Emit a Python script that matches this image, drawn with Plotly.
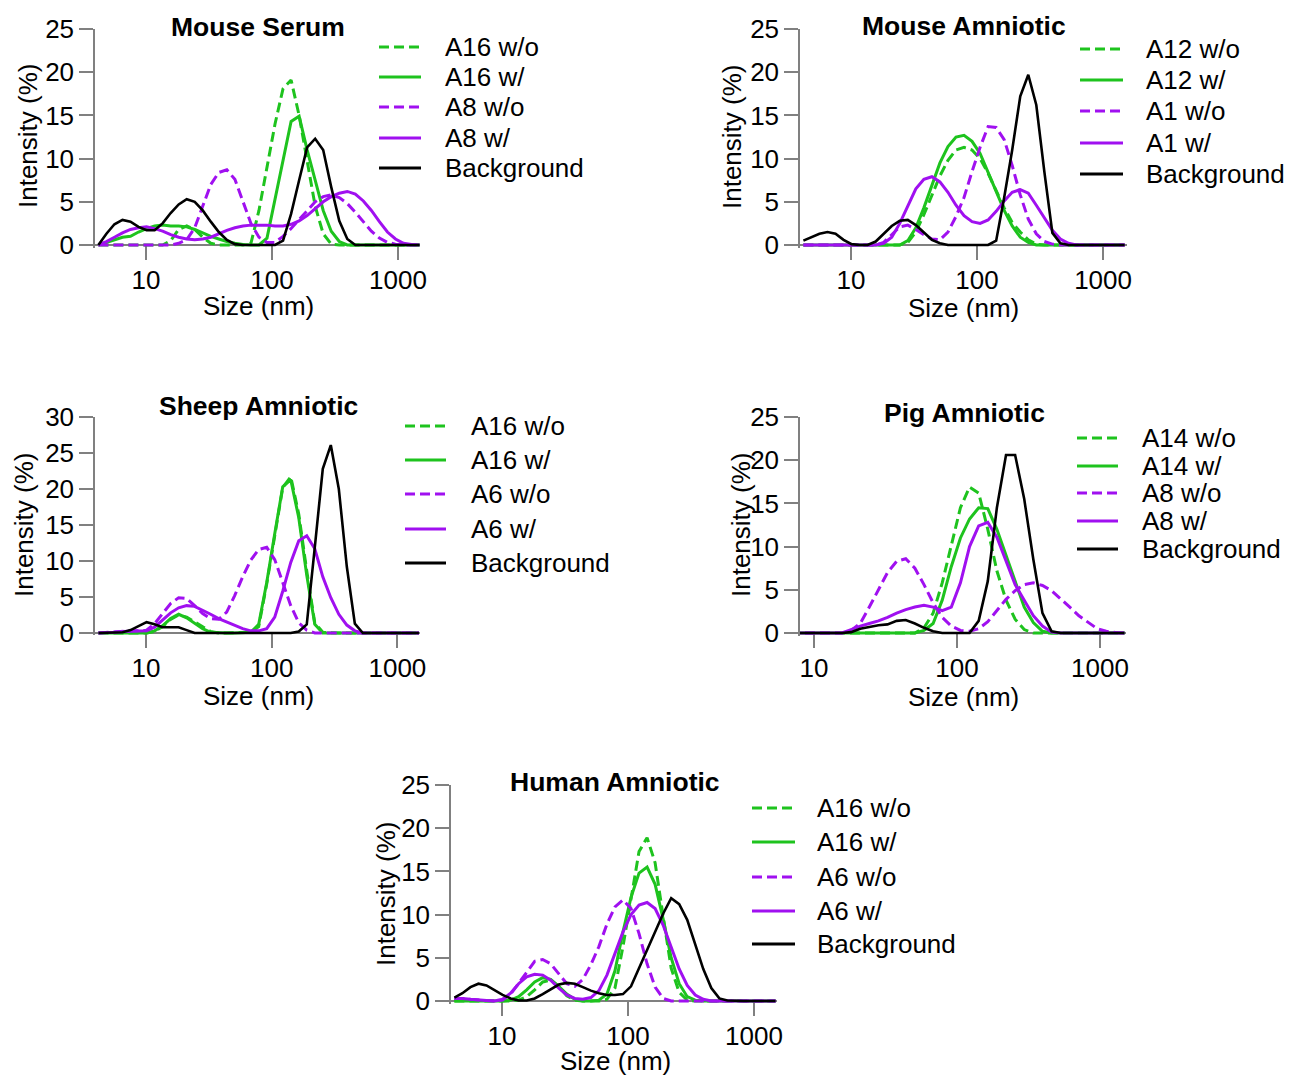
import plotly.graph_objects as go

W, H = 1293, 1079
OFF = 8  # the page body margin that shifts the figure inside the window

# ---------------- data ----------------
SIZES_NM = [4.187, 4.849, 5.615, 6.503, 7.531, 8.721, 10.10, 11.70, 13.54, 15.69,
            18.17, 21.04, 24.36, 28.21, 32.67, 37.84, 43.82, 50.75, 58.77, 68.06,
            78.82, 91.28, 105.7, 122.4, 141.8, 164.2, 190.1, 220.2, 255.0, 295.3,
            342.0, 396.1, 458.7, 531.2, 615.1, 712.4, 825.0, 955.4, 1106, 1281,
            1484]

X_TICKS = [10, 100, 1000]
X_TICK_LABELS = ["10", "100", "1000"]

# Mouse Serum
MS_A16_WO = [0, 0, 0, 0, 0, 0, 0, 0, 0, 0.5, 1.8, 2.2, 1.8, 0.9, 0.2, 0, 0, 0, 0, 0.2,
             4.0, 9.0, 14.0, 18.1, 19.1, 15.0, 9.5, 4.5, 1.3, 0.1, 0, 0, 0, 0, 0, 0, 0, 0, 0, 0, 0]
MS_A16_W = [0, 0.3, 0.6, 0.9, 1.0, 1.5, 1.9, 2.2, 2.3, 2.2, 2.2, 2.1, 1.8, 1.4, 1.0, 0.7, 0.4, 0.2, 0.05, 0,
            0, 0.8, 5.3, 9.8, 14.3, 14.9, 11.0, 7.5, 4.0, 1.6, 0.4, 0, 0, 0, 0, 0, 0, 0, 0, 0, 0]
MS_A8_WO = [0, 0, 0, 0, 0, 0, 0, 0, 0, 0, 0.2, 0.6, 2.0, 4.6, 7.0, 8.4, 8.7, 7.6, 5.1, 2.5,
            0.9, 0.3, 0.3, 1.0, 1.9, 2.9, 4.0, 5.0, 5.6, 5.8, 5.5, 4.8, 3.8, 2.7, 1.6, 0.8, 0.3, 0.1, 0, 0, 0]
MS_A8_W = [0, 0.4, 0.9, 1.4, 1.8, 2.0, 2.1, 1.9, 1.6, 1.2, 0.9, 0.7, 0.6, 0.7, 0.9, 1.3, 1.7, 2.0, 2.2, 2.3,
           2.3, 2.3, 2.2, 2.2, 2.4, 2.8, 3.4, 4.2, 5.0, 5.6, 6.0, 6.2, 5.9, 5.1, 4.0, 2.7, 1.5, 0.7, 0.2, 0.05, 0]
MS_BG = [0, 1.3, 2.4, 2.9, 2.7, 2.1, 1.7, 1.7, 2.5, 3.7, 4.7, 5.3, 5.0, 4.0, 2.7, 1.5, 0.6, 0.1, 0, 0,
         0, 0, 0, 0.5, 3.6, 7.5, 11.3, 12.3, 11.0, 6.7, 2.8, 0.7, 0, 0, 0, 0, 0, 0, 0, 0, 0]

# Mouse Amniotic
MA_A12_WO = [0, 0, 0, 0, 0, 0, 0, 0, 0, 0, 0, 0, 0, 0.3, 1.5, 3.5, 5.8, 8.0, 9.8, 11.0,
             11.3, 11.0, 10.0, 8.3, 6.3, 4.3, 2.6, 1.5, 0.6, 0.1, 0, 0, 0, 0, 0, 0, 0, 0, 0, 0, 0]
MA_A12_W = [0, 0, 0, 0, 0, 0, 0, 0, 0, 0, 0, 0, 0, 0.5, 2.0, 4.3, 7.0, 9.5, 11.4, 12.5,
            12.7, 12.0, 10.6, 8.5, 6.2, 4.0, 2.2, 0.9, 0.3, 0, 0, 0, 0, 0, 0, 0, 0, 0, 0, 0, 0]
MA_A1_WO = [0, 0, 0, 0, 0, 0, 0, 0, 0, 0, 0.3, 1.2, 2.1, 2.3, 1.8, 1.2, 0.7, 0.6, 1.5, 3.3,
            5.5, 8.5, 11.3, 13.7, 13.6, 12.2, 9.2, 5.8, 3.0, 1.3, 0.4, 0.1, 0, 0, 0, 0, 0, 0, 0, 0, 0]
MA_A1_W = [0, 0, 0, 0, 0, 0, 0, 0, 0, 0, 0.2, 0.9, 2.5, 4.6, 6.5, 7.6, 7.9, 7.3, 6.1, 4.6,
           3.4, 2.7, 2.5, 2.9, 3.9, 5.1, 6.1, 6.4, 6.0, 4.6, 3.2, 1.7, 0.7, 0.2, 0, 0, 0, 0, 0, 0, 0]
MA_BG = [0.5, 0.9, 1.3, 1.5, 1.3, 0.6, 0.1, 0, 0, 0.4, 1.3, 2.2, 2.8, 2.9, 2.3, 1.4, 0.6, 0.2, 0, 0,
         0, 0, 0, 0, 0.5, 5.5, 11.0, 17.2, 19.7, 16.2, 8.5, 1.4, 0.2, 0, 0, 0, 0, 0, 0, 0, 0]

# Sheep Amniotic
SH_A16_WO = [0, 0, 0, 0, 0, 0, 0, 0.2, 0.9, 1.9, 2.5, 2.2, 1.5, 0.8, 0.2, 0, 0, 0, 0, 0.1,
             0.9, 6.8, 13.5, 20.2, 21.7, 16.5, 8.6, 1.4, 0.1, 0, 0, 0, 0, 0, 0, 0, 0, 0, 0, 0, 0]
SH_A16_W = [0, 0, 0, 0, 0, 0, 0, 0.3, 1.0, 2.0, 2.6, 2.1, 1.3, 0.6, 0.1, 0, 0, 0, 0, 0.1,
            1.2, 7.0, 13.8, 20.3, 21.3, 16.0, 8.0, 1.2, 0, 0, 0, 0, 0, 0, 0, 0, 0, 0, 0, 0, 0]
SH_A6_WO = [0, 0.1, 0.2, 0.3, 0.3, 0.3, 0.4, 1.3, 2.7, 4.1, 4.9, 4.8, 3.8, 2.7, 2.0, 1.9, 2.9, 5.2, 7.8, 10.1,
            11.6, 11.9, 10.2, 7.0, 3.8, 1.4, 0.4, 0, 0, 0, 0, 0, 0, 0, 0, 0, 0, 0, 0, 0, 0]
SH_A6_W = [0, 0, 0.1, 0.2, 0.2, 0.3, 0.3, 0.8, 1.8, 2.8, 3.5, 3.8, 3.7, 3.2, 2.6, 2.0, 1.5, 1.0, 0.6, 0.3,
           0.3, 0.6, 2.2, 5.8, 9.8, 12.8, 13.5, 11.7, 7.8, 4.9, 2.6, 1.1, 0.3, 0, 0, 0, 0, 0, 0, 0, 0]
SH_BG = [0, 0, 0, 0.1, 0.4, 1.0, 1.5, 1.2, 0.8, 0.8, 0.8, 0.4, 0, 0, 0, 0, 0, 0, 0, 0,
         0, 0, 0, 0, 0, 0.2, 1.2, 11.9, 22.8, 26.1, 20.0, 9.2, 1.3, 0, 0, 0, 0, 0, 0, 0, 0]

# Pig Amniotic
PIG_A14_WO = [0, 0, 0, 0, 0, 0, 0, 0, 0, 0, 0, 0, 0, 0, 0, 0, 0, 0, 0.6, 2.3,
              5.8, 10.2, 14.5, 16.9, 16.2, 12.0, 7.2, 3.8, 1.6, 0.4, 0, 0, 0, 0, 0, 0, 0, 0, 0, 0, 0]
PIG_A14_W = [0, 0, 0, 0, 0, 0, 0, 0, 0, 0, 0, 0, 0, 0, 0, 0, 0, 0, 0.3, 1.1,
             3.8, 7.7, 11.0, 13.2, 14.5, 14.4, 12.0, 9.0, 5.8, 3.0, 1.2, 0.2, 0, 0, 0, 0, 0, 0, 0, 0, 0]
PIG_A8_WO = [0, 0, 0, 0, 0, 0, 0, 0, 0, 0, 0.3, 1.1, 3.0, 5.0, 7.0, 8.3, 8.6, 7.5, 5.6, 3.5,
             1.8, 0.8, 0.3, 0.2, 0.5, 1.3, 2.6, 3.9, 4.9, 5.6, 5.8, 5.5, 4.9, 4.0, 3.0, 2.0, 1.2, 0.5, 0.2, 0.05, 0]
PIG_A8_W = [0, 0, 0, 0, 0, 0, 0, 0, 0, 0, 0.4, 0.8, 1.1, 1.4, 1.8, 2.3, 2.7, 3.0, 3.2, 3.0,
            2.6, 3.0, 5.8, 10.0, 12.4, 12.8, 11.1, 8.3, 5.6, 3.8, 2.0, 0.8, 0.1, 0, 0, 0, 0, 0, 0, 0, 0]
PIG_BG = [0, 0, 0, 0, 0, 0, 0, 0, 0, 0, 0.1, 0.5, 0.7, 0.9, 1.0, 1.4, 1.5, 1.1, 0.6, 0.2,
          0, 0, 0, 0, 1.4, 6.0, 14.5, 20.6, 20.6, 15.5, 8.5, 2.3, 0.2, 0, 0, 0, 0, 0, 0, 0, 0]

# Human Amniotic
HU_A16_WO = [0, 0, 0, 0, 0, 0, 0, 0, 0.1, 0.5, 1.3, 2.2, 2.4, 1.7, 0.6, 0.1, 0, 0, 0, 0.2,
             1.5, 6.3, 12.0, 17.3, 18.9, 16.0, 9.8, 3.8, 1.0, 0.1, 0, 0, 0, 0, 0, 0, 0, 0, 0, 0, 0]
HU_A16_W = [0, 0, 0, 0, 0, 0, 0, 0.1, 0.5, 1.3, 2.2, 2.7, 2.5, 1.7, 0.8, 0.2, 0, 0, 0.1, 0.8,
            3.5, 8.0, 12.0, 14.8, 15.5, 13.5, 9.5, 5.0, 2.0, 0.5, 0.1, 0, 0, 0, 0, 0, 0, 0, 0, 0, 0]
HU_A6_WO = [0.3, 0.3, 0.2, 0.1, 0.05, 0, 0.1, 0.8, 2.0, 3.3, 4.6, 4.8, 4.3, 3.1, 2.0, 1.7, 2.5, 4.2, 6.3, 8.9,
            10.9, 11.7, 10.7, 7.8, 4.3, 1.6, 0.3, 0, 0, 0, 0, 0, 0, 0, 0, 0, 0, 0, 0, 0, 0]
HU_A6_W = [0.3, 0.3, 0.2, 0.1, 0.05, 0, 0.2, 0.9, 2.0, 2.8, 3.1, 3.0, 2.4, 1.5, 0.7, 0.3, 0.2, 0.4, 1.2, 3.0,
           5.5, 8.0, 10.0, 11.1, 11.4, 10.7, 8.8, 6.2, 3.7, 1.8, 0.7, 0.2, 0, 0, 0, 0, 0, 0, 0, 0, 0]
HU_BG = [0.4, 0.9, 1.6, 2.0, 1.8, 1.2, 0.7, 0.3, 0.05, 0.05, 0.3, 0.8, 1.4, 1.9, 2.1, 2.0, 1.6, 1.2, 0.9, 0.7,
         0.7, 0.8, 1.7, 3.8, 5.9, 8.2, 10.1, 11.9, 11.2, 9.4, 6.6, 3.7, 1.5, 0.3, 0.05, 0, 0, 0, 0, 0, 0]

PANEL_TITLES = ["Mouse Serum", "Mouse Amniotic", "Sheep Amniotic", "Pig Amniotic", "Human Amniotic"]
LEGEND_LABELS = [
    ["A16 w/o", "A16 w/", "A8 w/o", "A8 w/", "Background"],
    ["A12 w/o", "A12 w/", "A1 w/o", "A1 w/", "Background"],
    ["A16 w/o", "A16 w/", "A6 w/o", "A6 w/", "Background"],
    ["A14 w/o", "A14 w/", "A8 w/o", "A8 w/", "Background"],
    ["A16 w/o", "A16 w/", "A6 w/o", "A6 w/", "Background"],
]
SERIES = [
    [MS_A16_WO, MS_A16_W, MS_A8_WO, MS_A8_W, MS_BG],
    [MA_A12_WO, MA_A12_W, MA_A1_WO, MA_A1_W, MA_BG],
    [SH_A16_WO, SH_A16_W, SH_A6_WO, SH_A6_W, SH_BG],
    [PIG_A14_WO, PIG_A14_W, PIG_A8_WO, PIG_A8_W, PIG_BG],
    [HU_A16_WO, HU_A16_W, HU_A6_WO, HU_A6_W, HU_BG],
]
Y_MAX = [25, 25, 30, 25, 25]

# ---------------- styles / layout (window pixels) ----------------
GREEN = "#1EC31E"
PURPLE = "#A010F0"
BLACK = "#000000"
AXIS = "#808080"
FONT = "Liberation Sans, Arial, sans-serif"
FS = 26
DASH = "10px,5px"
STYLES = [(GREEN, DASH, 3), (GREEN, "solid", 3), (PURPLE, DASH, 3), (PURPLE, "solid", 3), (BLACK, "solid", 2.6)]

# per panel: x_left, x_right, y_top, y_zero (px), log x range
PANEL_BOX = [
    (95, 420, 29, 245, (0.595, 3.175)),
    (800, 1127, 29, 245, (0.595, 3.19)),
    (95, 420, 417, 633, (0.594, 3.18)),
    (800, 1126, 417, 633, (0.902, 3.182)),
    (451, 777, 785, 1001, (0.595, 3.183)),
]
TITLE_POS = [(258, 27), (964, 26), (258, 406), (964, 413), (615, 782)]
XTITLE_POS = [(258, 306), (963, 308), (258, 696), (963, 697), (615, 1061)]
YTITLE_POS = [(28, 136), (732, 137), (24, 525), (741, 525), (386, 894)]
LEGEND_POS = [
    (379, 421, 443, [47, 77, 107, 138, 168]),
    (1080, 1123, 1144, [49, 80, 111, 143, 174]),
    (405, 446, 469, [426, 460, 494, 529, 563]),
    (1077, 1118, 1140, [438, 466, 493, 521, 549]),
    (752, 795, 815, [808, 842, 877, 911, 944]),
]
YPAD = 0.3
FW, FH = W - OFF, H - OFF


def px(x):
    return (x - OFF) / FW


def py(y):
    return 1 - (y - OFF) / FH


fig = go.Figure()
annotations = []
shapes = []
layout = {}

for i in range(5):
    n = "" if i == 0 else str(i + 1)
    xl, xr, yt, y0, xr_log = PANEL_BOX[i]
    ymax = Y_MAX[i]
    ppu = (y0 - yt) / ymax
    ybot = y0 + YPAD * ppu

    for s, (vals, label) in enumerate(zip(SERIES[i], LEGEND_LABELS[i])):
        color, dash, lw = STYLES[s]
        fig.add_trace(go.Scatter(
            x=SIZES_NM, y=vals, mode="lines", name=label,
            line=dict(color=color, width=lw, dash=dash),
            xaxis="x" + n, yaxis="y" + n, showlegend=False,
        ))

    layout["xaxis" + n] = dict(
        type="log", range=list(xr_log), domain=[px(xl), px(xr)],
        anchor="free", position=py(y0), automargin=False,
        tickvals=X_TICKS, ticktext=X_TICK_LABELS,
        showline=True, linecolor=AXIS, linewidth=1.5,
        ticks="outside", ticklen=14, tickwidth=1.5, tickcolor=AXIS,
        ticklabelstandoff=-2,
        showgrid=False, zeroline=False, layer="below traces",
        tickfont=dict(family=FONT, size=FS, color="black"),
    )
    layout["yaxis" + n] = dict(
        range=[-YPAD, ymax], domain=[py(ybot), py(yt)],
        anchor="x" + n, automargin=False,
        tickvals=list(range(0, ymax + 1, 5)),
        showline=True, linecolor=AXIS, linewidth=1.5,
        ticks="outside", ticklen=14, tickwidth=1.5, tickcolor=AXIS,
        showgrid=False, zeroline=False, layer="below traces",
        tickfont=dict(family=FONT, size=FS, color="black"),
    )

    tx, ty = TITLE_POS[i]
    annotations.append(dict(text="<b>" + PANEL_TITLES[i] + "</b>", x=px(tx), y=py(ty),
                            xref="paper", yref="paper", xanchor="center", yanchor="middle",
                            showarrow=False, font=dict(family=FONT, size=FS + 0.5, color="black")))
    tx, ty = XTITLE_POS[i]
    annotations.append(dict(text="Size (nm)", x=px(tx), y=py(ty),
                            xref="paper", yref="paper", xanchor="center", yanchor="middle",
                            showarrow=False, font=dict(family=FONT, size=FS, color="black")))
    tx, ty = YTITLE_POS[i]
    annotations.append(dict(text="Intensity (%)", x=px(tx), y=py(ty), textangle=-90,
                            xref="paper", yref="paper", xanchor="center", yanchor="middle",
                            showarrow=False, font=dict(family=FONT, size=FS, color="black")))

    lx0, lx1, ltx, rows = LEGEND_POS[i]
    for s, label in enumerate(LEGEND_LABELS[i]):
        color, dash, lw = STYLES[s]
        shapes.append(dict(type="line", xref="paper", yref="paper",
                           x0=px(lx0), x1=px(lx1), y0=py(rows[s]), y1=py(rows[s]),
                           line=dict(color=color, width=3, dash=dash)))
        annotations.append(dict(text=label, x=px(ltx), y=py(rows[s]),
                                xref="paper", yref="paper", xanchor="left", yanchor="middle",
                                showarrow=False, font=dict(family=FONT, size=FS, color="black")))

fig.update_layout(
    width=FW, height=FH,
    margin=dict(l=0, r=0, t=0, b=0),
    paper_bgcolor="white", plot_bgcolor="white",
    showlegend=False,
    annotations=annotations, shapes=shapes,
    **layout,
)

fig.write_html("out.html")
